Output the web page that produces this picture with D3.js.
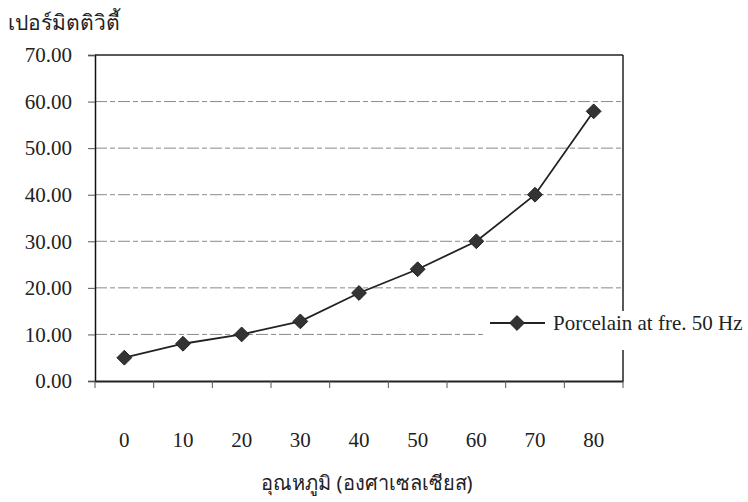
<!DOCTYPE html>
<html><head><meta charset="utf-8">
<script src="https://cdn.jsdelivr.net/npm/d3@7"></script>
<style>body{margin:0;background:#fff}</style>
</head><body>
<script>
const categories = ["0","10","20","30","40","50","60","70","80"];
const values = [5, 8, 10, 12.8, 18.9, 24, 30, 40, 57.9];
const yTicks = [0,10,20,30,40,50,60,70];
const seriesName = "Porcelain at fre. 50 Hz";
const yTitle = "เปอร์มิตติวิตี้";
const xTitle = "อุณหภูมิ (องศาเซลเซียส)";

const W = 748, H = 502;
const L = 95, R = 623, T = 55, B = 381;
const font = "'Liberation Serif','Times New Roman',serif";
const svg = d3.select("body").append("svg").attr("width", W).attr("height", H);

const x = d3.scaleBand().domain(categories).range([L, R]);
const y = d3.scaleLinear().domain([0,70]).range([B, T]);

// gridlines
svg.append("g").selectAll("line").data(yTicks.filter(d => d>0 && d<70)).join("line")
  .attr("x1", L).attr("x2", R).attr("y1", d=>y(d)).attr("y2", d=>y(d))
  .attr("stroke", "#8a8a8a").attr("stroke-width", 1).attr("stroke-dasharray", "12,3,5,3");

// y axis
const ya = svg.append("g").attr("transform", `translate(${L},0)`)
  .call(d3.axisLeft(y).tickValues(yTicks).tickFormat(d3.format(".2f")).tickSize(7).tickPadding(16));
ya.select(".domain").attr("stroke","#111").attr("stroke-width",1.5);
ya.selectAll(".tick line").attr("stroke","#555");
ya.selectAll("text").attr("font-family", font).attr("font-size", 21).attr("fill","#222");

// x axis
const xa = svg.append("g").attr("transform", `translate(0,${B})`)
  .call(d3.axisBottom(x).tickSize(0).tickPadding(51));
xa.select(".domain").attr("stroke","#222").attr("stroke-width",2);
xa.selectAll("text").attr("font-family", font).attr("font-size", 21).attr("fill","#222");
svg.append("g").selectAll("line").data(d3.range(categories.length+1)).join("line")
  .attr("x1", i => L + i*x.step()).attr("x2", i => L + i*x.step())
  .attr("y1", B).attr("y2", B+7).attr("stroke","#555");

// top & right borders
svg.append("line").attr("x1",L).attr("x2",R).attr("y1",T).attr("y2",T).attr("stroke","#222").attr("stroke-width",1.5);
svg.append("line").attr("x1",R).attr("x2",R).attr("y1",T).attr("y2",B).attr("stroke","#222").attr("stroke-width",1.5);

// series line
const cx = (d,i) => x(categories[i]) + x.bandwidth()/2;
svg.append("path").datum(values)
  .attr("d", d3.line().x((d,i)=>cx(d,i)).y(d=>y(d)))
  .attr("fill","none").attr("stroke","#222").attr("stroke-width",1.8);
const diamond = d3.symbol().type(d3.symbolDiamond2).size(140);
svg.append("g").selectAll("path").data(values).join("path")
  .attr("d", diamond).attr("transform",(d,i)=>`translate(${cx(d,i)},${y(d)})`)
  .attr("fill","#333").attr("stroke","#222");

// legend
const lg = svg.append("g");
lg.append("rect").attr("x",486).attr("y",311).attr("width",262).attr("height",39).attr("fill","#fff");
lg.append("line").attr("x1",490).attr("x2",545).attr("y1",323).attr("y2",323).attr("stroke","#222").attr("stroke-width",1.8);
lg.append("path").attr("d",diamond).attr("transform","translate(517,323)").attr("fill","#333").attr("stroke","#222");
lg.append("text").attr("x",553).attr("y",330).text(seriesName)
  .attr("font-family",font).attr("font-size",21).attr("fill","#222");

// titles
svg.append("text").attr("x",8).attr("y",30).text(yTitle)
  .attr("font-family","'Noto Sans',sans-serif").attr("font-size",21).attr("fill","#222");
svg.append("text").attr("x",367).attr("y",490).attr("text-anchor","middle").text(xTitle)
  .attr("font-family","'Noto Sans',sans-serif").attr("font-size",20).attr("fill","#222");
</script>
</body></html>
